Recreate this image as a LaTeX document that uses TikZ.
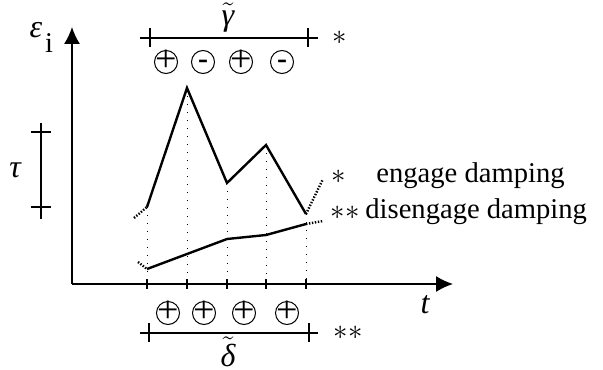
\documentclass[tikz,border=0pt]{standalone}
\usepackage{fontspec}
\setmainfont{Liberation Serif}
\usetikzlibrary{arrows.meta,calc}

\newcommand{\signtext}[2]{\makebox[0pt]{\raisebox{#2}[0pt][0pt]{#1}}}

\begin{document}
\begin{tikzpicture}[x=0.5pt,y=-0.5pt,
        every node/.style={font=\fontsize{14.3}{17}\selectfont,inner sep=0pt},
        greek/.style={font=\fontsize{16}{18}\selectfont\itshape},
        axis/.style={line width=0.7pt,-{Latex[length=8.5pt,width=8pt]}},
        curve/.style={line width=1.2pt,line join=miter},
        ext/.style={line width=1.2pt,dash pattern=on 0.7pt off 0.8pt},
        guide/.style={line width=0.5pt,dash pattern=on 0.5pt off 3.5pt},
        bar/.style={line width=0.6pt},
        sign/.style={circle,draw,line width=0.5pt,minimum size=11.5pt},
        plus/.style={sign,font=\fontsize{19}{19}\selectfont},
        minus/.style={sign,font=\fontsize{15}{15}\selectfont\bfseries}]
  \useasboundingbox (0,0) rectangle (603,369);
  % axes
  \coordinate (o) at (72,284);
  \coordinate (ytip) at (72,27);
  \coordinate (xtip) at (453,284);
  \draw[axis] (o) -- (ytip);
  \draw[axis] (o) -- (xtip);
  \node[greek] (eps) at (36,30) {ε};
  \node (idx) at (49,43) {i};
  \node[greek] (t) at (425,305) {t};
  % curve points
  \coordinate (u1) at (147,207);
  \coordinate (u2) at (187,88);
  \coordinate (u3) at (227,183);
  \coordinate (u4) at (266,145);
  \coordinate (u5) at (306,214);
  \coordinate (l1) at (147,269);
  \coordinate (l3) at (227,239);
  \coordinate (l4) at (266,235);
  \coordinate (l5) at (306,224);
  \coordinate (us) at (134,218);
  \coordinate (ue) at (323,179);
  \coordinate (ls) at (138,262);
  \coordinate (le) at (323,221);
  % guides and ticks
  \foreach \p in {u1,u2,u3,u4,u5} {
    \draw[guide] (\p) -- (\p |- o);
    \draw[bar] ($(\p |- o)+(0,-5)$) -- ++(0,10);
  }
  % engage / disengage curves
  \draw[curve] (u1) -- (u2) -- (u3) -- (u4) -- (u5);
  \draw[curve] (l1) -- (l3) -- (l4) -- (l5);
  \draw[ext] (us) -- (u1);
  \draw[ext] (u5) -- (ue);
  \draw[ext] (ls) -- (l1);
  \draw[ext] (l5) -- (le);
  % tau bar
  \coordinate (tt) at (41,123);
  \coordinate (tb) at (41,219);
  \draw[bar] (tt) -- (tb);
  \draw[bar] (31,132) -- (51,132);
  \draw[bar] (31,207) -- (51,207);
  \node[greek] (tau) at (15,170) {τ};
  % gamma bar
  \coordinate (ga) at (140,38);
  \coordinate (gb) at (318,38);
  \draw[bar] (ga) -- (gb);
  \draw[bar] (150,28) -- (150,47);
  \draw[bar] (308,28) -- (308,47);
  \node[greek] (gam) at (228,18) {$\tilde{\mbox{\itshape γ}}$};
  \node (st1) at (340,38) {$\ast$};
  \node[plus] (g1) at (166,62) {\signtext{+}{-0.25em}};
  \node[minus] (g2) at (203,62) {\signtext{-}{-0.23em}};
  \node[plus] (g3) at (241,62) {\signtext{+}{-0.25em}};
  \node[minus] (g4) at (282,62) {\signtext{-}{-0.23em}};
  % delta bar
  \coordinate (da) at (140,333);
  \coordinate (db) at (318,333);
  \draw[bar] (da) -- (db);
  \draw[bar] (149,323) -- (149,342);
  \draw[bar] (309,323) -- (309,342);
  \node[greek] (del) at (228,352) {$\tilde{\mbox{\itshape δ}}$};
  \node (st2) at (348,333) {$\ast\ast$};
  \node[plus] (d1) at (168,313) {\signtext{+}{-0.25em}};
  \node[plus] (d2) at (204,313) {\signtext{+}{-0.25em}};
  \node[plus] (d3) at (244,313) {\signtext{+}{-0.25em}};
  \node[plus] (d4) at (287,313) {\signtext{+}{-0.25em}};
  % legend
  \node (st3) at (339,177) {$\ast$};
  \node[anchor=west] (eng) at (376,176) {engage damping};
  \node (st4) at (345,213) {$\ast\ast$};
  \node[anchor=west] (dis) at (365,212) {disengage damping};
\end{tikzpicture}
\end{document}
